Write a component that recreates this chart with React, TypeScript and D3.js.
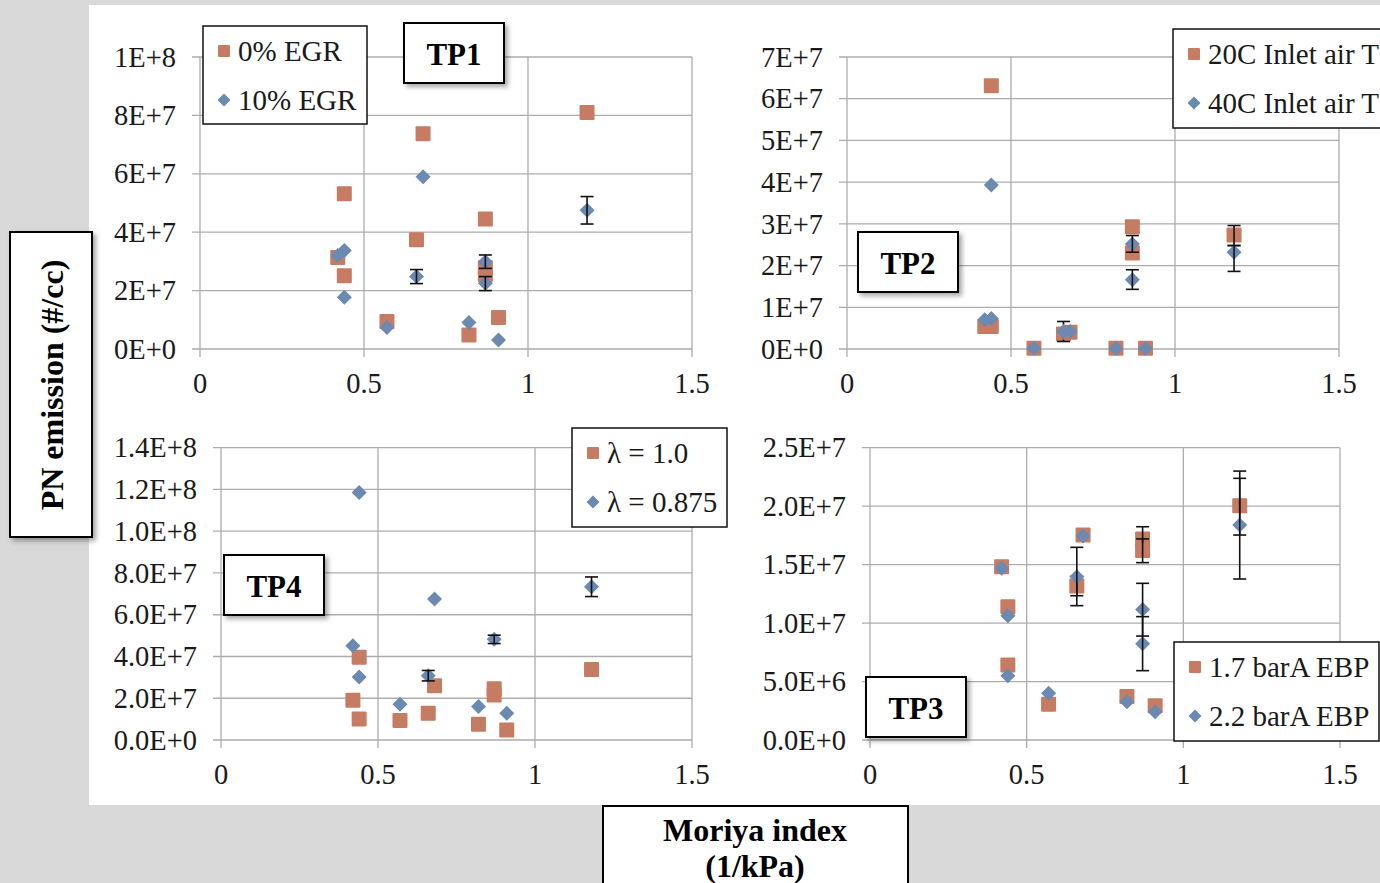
import React from 'react';
import * as d3 from 'd3';

// ---------- data ----------
// points: [moriyaIndex, PN, errLow?, errHigh?]
const xTicks = [0, 0.5, 1, 1.5];

const tp1Egr0 = [
  [0.42, 3.13e7], [0.44, 5.32e7], [0.44, 2.51e7], [0.57, 0.94e7], [0.66, 3.74e7], [0.68, 7.37e7],
  [0.82, 0.48e7], [0.87, 4.45e7], [0.87, 2.78e7], [0.87, 2.55e7], [0.91, 1.08e7], [1.18, 8.1e7],
];
const tp1Egr10 = [
  [0.42, 3.2e7], [0.44, 3.37e7], [0.44, 1.77e7], [0.57, 0.74e7], [0.66, 2.48e7, 2.24e7, 2.72e7],
  [0.68, 5.9e7], [0.82, 0.91e7], [0.87, 2.99e7, 2.76e7, 3.22e7], [0.87, 2.25e7, 2.0e7, 2.48e7],
  [0.91, 0.31e7], [1.18, 4.75e7, 4.28e7, 5.22e7],
];

const tp2T20 = [
  [0.42, 0.54e7], [0.44, 0.54e7], [0.44, 6.31e7], [0.57, 0.02e7], [0.66, 0.36e7, 0.18e7, 0.66e7],
  [0.68, 0.4e7], [0.82, 0.02e7], [0.87, 2.93e7], [0.87, 2.3e7], [0.91, 0.02e7], [1.18, 2.73e7, 2.48e7, 2.96e7],
];
const tp2T40 = [
  [0.42, 0.7e7], [0.44, 0.73e7], [0.44, 3.93e7], [0.57, 0.02e7], [0.66, 0.42e7], [0.68, 0.42e7],
  [0.82, 0.02e7], [0.87, 2.52e7, 2.32e7, 2.72e7], [0.87, 1.66e7, 1.43e7, 1.9e7], [0.91, 0.02e7],
  [1.18, 2.32e7, 1.86e7, 2.48e7],
];

const tp4Lambda10 = [
  [0.42, 0.19e8], [0.44, 0.396e8], [0.44, 0.1e8], [0.57, 0.093e8], [0.66, 0.128e8], [0.68, 0.26e8],
  [0.82, 0.075e8], [0.87, 0.245e8], [0.87, 0.215e8], [0.91, 0.048e8], [1.18, 0.338e8],
];
const tp4Lambda0875 = [
  [0.42, 0.452e8], [0.44, 1.186e8], [0.44, 0.302e8], [0.57, 0.171e8], [0.66, 0.308e8, 0.283e8, 0.333e8],
  [0.68, 0.675e8], [0.82, 0.16e8], [0.87, 0.482e8, 0.462e8, 0.502e8], [0.91, 0.128e8],
  [1.18, 0.734e8, 0.687e8, 0.781e8],
];

const tp3Ebp17 = [
  [0.42, 1.482e7], [0.44, 1.14e7], [0.44, 0.641e7], [0.57, 0.305e7], [0.66, 1.317e7, 1.234e7, 1.4e7],
  [0.68, 1.753e7], [0.82, 0.371e7], [0.87, 1.72e7, 1.62e7, 1.824e7], [0.87, 1.62e7, 1.517e7, 1.72e7],
  [0.91, 0.294e7], [1.18, 2.004e7, 1.753e7, 2.3e7],
];
const tp3Ebp22 = [
  [0.42, 1.468e7], [0.44, 1.063e7], [0.44, 0.55e7], [0.57, 0.399e7], [0.66, 1.397e7, 1.149e7, 1.648e7],
  [0.68, 1.745e7], [0.82, 0.328e7], [0.87, 1.117e7, 0.889e7, 1.34e7], [0.87, 0.824e7, 0.593e7, 1.055e7],
  [0.91, 0.242e7], [1.18, 1.839e7, 1.377e7, 2.238e7],
];

// ---------- styling / layout ----------
const SQ = '#C57C63';
const DI = '#6C89B2';
const GRID = '#ADADAD';
const SERIF = '"Liberation Serif", "Times New Roman", serif';
const TICK_FS = 28.5;
const LEG_FS = 29;

interface PanelDef {
  name: string;
  xr: [number, number];
  yr: [number, number];
  yMax: number;
  yStep: number;
  dec: number;
  a: number[][];
  b: number[][];
  legA: string;
  legB: string;
  leg: { x: number; y: number; w: number; h: number };
  lab: { x: number; y: number };
}

const panels: PanelDef[] = [
  {
    name: 'TP1', xr: [200, 692], yr: [349, 57], yMax: 1e8, yStep: 2e7, dec: 0,
    a: tp1Egr0, b: tp1Egr10, legA: '0% EGR', legB: '10% EGR',
    leg: { x: 203, y: 26, w: 164, h: 98 }, lab: { x: 404, y: 23 },
  },
  {
    name: 'TP2', xr: [847, 1339], yr: [349, 57], yMax: 7e7, yStep: 1e7, dec: 0,
    a: tp2T20, b: tp2T40, legA: '20C Inlet air T', legB: '40C Inlet air T',
    leg: { x: 1173, y: 29, w: 230, h: 99 }, lab: { x: 858, y: 232 },
  },
  {
    name: 'TP4', xr: [221, 692], yr: [740, 447.7], yMax: 1.4e8, yStep: 2e7, dec: 1,
    a: tp4Lambda10, b: tp4Lambda0875, legA: 'λ = 1.0', legB: 'λ = 0.875',
    leg: { x: 572, y: 428, w: 155, h: 99 }, lab: { x: 224, y: 555 },
  },
  {
    name: 'TP3', xr: [870, 1340], yr: [740, 447.7], yMax: 2.5e7, yStep: 5e6, dec: 1,
    a: tp3Ebp17, b: tp3Ebp22, legA: '1.7 barA EBP', legB: '2.2 barA EBP',
    leg: { x: 1174, y: 642, w: 205, h: 99 }, lab: { x: 866, y: 677 },
  },
];

function fmt(v: number, d: number): string {
  if (v === 0) return (0).toFixed(d) + 'E+0';
  const e = Math.floor(Math.log10(v) + 1e-9);
  const m = v / Math.pow(10, e);
  return m.toFixed(d) + 'E+' + e;
}

function Square({ cx, cy, s }: { cx: number; cy: number; s: number }) {
  return <rect x={cx - s / 2} y={cy - s / 2} width={s} height={s} rx={1} fill={SQ} />;
}
function Diamond({ cx, cy, r }: { cx: number; cy: number; r: number }) {
  return <path d={`M${cx},${cy - r}L${cx + r},${cy}L${cx},${cy + r}L${cx - r},${cy}Z`} fill={DI} />;
}

function ErrBar({ x, y, p }: { x: any; y: any; p: number[] }) {
  if (p.length < 4) return null;
  const cx = x(p[0]);
  const y1 = y(p[2]);
  const y2 = y(p[3]);
  const c = 6.5;
  return (
    <g stroke="#111" strokeWidth={1.6}>
      <line x1={cx} x2={cx} y1={y1} y2={y2} />
      <line x1={cx - c} x2={cx + c} y1={y1} y2={y1} />
      <line x1={cx - c} x2={cx + c} y1={y2} y2={y2} />
    </g>
  );
}

function Panel({ p }: { p: PanelDef }) {
  const x = d3.scaleLinear().domain([0, 1.5]).range(p.xr);
  const y = d3.scaleLinear().domain([0, p.yMax]).range(p.yr);
  const n = Math.round(p.yMax / p.yStep);
  const yTicks = d3.range(n + 1).map((i) => i * p.yStep);
  const [x0, x1] = p.xr;
  const [yb, yt] = p.yr;
  return (
    <g>
      {yTicks.map((t) => (
        <line key={'h' + t} x1={x0 - 8} x2={x1} y1={y(t)} y2={y(t)} stroke={GRID} strokeWidth={1.3} />
      ))}
      {xTicks.map((t) => (
        <line key={'v' + t} x1={x(t)} x2={x(t)} y1={yt} y2={yb + 8} stroke={GRID} strokeWidth={1.3} />
      ))}
      {yTicks.map((t) => (
        <text key={'yl' + t} x={x0 - 24} y={y(t)} dy="0.34em" textAnchor="end" fontSize={TICK_FS} fontFamily={SERIF} fill="#1a1a1a">
          {fmt(t, p.dec)}
        </text>
      ))}
      {xTicks.map((t) => (
        <text key={'xl' + t} x={x(t)} y={yb + 34} dy="0.34em" textAnchor="middle" fontSize={TICK_FS} fontFamily={SERIF} fill="#1a1a1a">
          {String(t)}
        </text>
      ))}
      {p.a.map((d, i) => (
        <g key={'a' + i}>
          <Square cx={x(d[0])} cy={y(d[1])} s={15} />
          <ErrBar x={x} y={y} p={d} />
        </g>
      ))}
      {p.b.map((d, i) => (
        <g key={'b' + i}>
          <Diamond cx={x(d[0])} cy={y(d[1])} r={7.5} />
          <ErrBar x={x} y={y} p={d} />
        </g>
      ))}
      {/* legend */}
      <rect x={p.leg.x} y={p.leg.y} width={p.leg.w} height={p.leg.h} fill="#fff" stroke="#111" strokeWidth={1.5} />
      <Square cx={p.leg.x + 21} cy={p.leg.y + 25} s={12} />
      <text x={p.leg.x + 35} y={p.leg.y + 25} dy="0.34em" fontSize={LEG_FS} fontFamily={SERIF} fill="#1a1a1a">{p.legA}</text>
      <Diamond cx={p.leg.x + 21} cy={p.leg.y + 74} r={6.5} />
      <text x={p.leg.x + 35} y={p.leg.y + 74} dy="0.34em" fontSize={LEG_FS} fontFamily={SERIF} fill="#1a1a1a">{p.legB}</text>
      {/* TP label */}
      <rect x={p.lab.x} y={p.lab.y} width={100} height={60} fill="#fff" stroke="#000" strokeWidth={2} filter="url(#shadow)" />
      <text x={p.lab.x + 50} y={p.lab.y + 31} dy="0.34em" textAnchor="middle" fontSize={31} fontWeight="bold" fontFamily={SERIF} fill="#000">
        {p.name}
      </text>
    </g>
  );
}

export default function App() {
  return (
    <div style={{ position: 'absolute', left: 0, top: 0, width: 1380, height: 883, overflow: 'hidden' }}>
      <svg width={1380} height={883} style={{ display: 'block' }}>
        <defs>
          <filter id="shadow" x="-20%" y="-20%" width="150%" height="150%">
            <feDropShadow dx={3} dy={3} stdDeviation={2.5} floodColor="#000" floodOpacity={0.35} />
          </filter>
        </defs>
        <rect x={0} y={0} width={1380} height={883} fill="#D9D9D9" />
        <rect x={89} y={5} width={1291} height={800} fill="#fff" />
        {panels.map((p) => (
          <Panel key={p.name} p={p} />
        ))}
        {/* y-axis title */}
        <rect x={10} y={232} width={82} height={305} fill="#fff" stroke="#000" strokeWidth={2} filter="url(#shadow)" />
        <text transform="translate(52,385) rotate(-90)" dy="0.34em" textAnchor="middle" fontSize={32} fontWeight="bold" fontFamily={SERIF} fill="#000">
          PN emission (#/cc)
        </text>
        {/* x-axis title */}
        <rect x={603} y={806} width={305} height={100} fill="#fff" stroke="#000" strokeWidth={2} />
        <text x={755} y={830} dy="0.34em" textAnchor="middle" fontSize={32} fontWeight="bold" fontFamily={SERIF} fill="#000">
          Moriya index
        </text>
        <text x={755} y={866} dy="0.34em" textAnchor="middle" fontSize={32} fontWeight="bold" fontFamily={SERIF} fill="#000">
          (1/kPa)
        </text>
      </svg>
    </div>
  );
}
